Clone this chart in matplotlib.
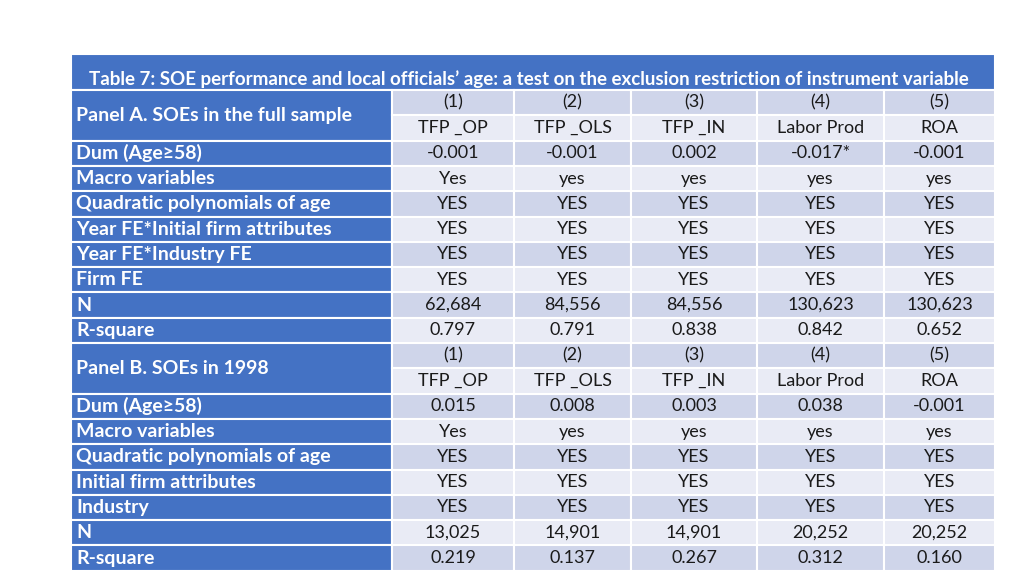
import matplotlib.pyplot as plt
from matplotlib.patches import Rectangle

plt.rcParams['font.family'] = ['Lato', 'DejaVu Sans']

title = "Table 7: SOE performance and local officials\u2019 age: a test on the exclusion restriction of instrument variable"

col_nums = ['(1)', '(2)', '(3)', '(4)', '(5)']
col_names = ['TFP _OP', 'TFP _OLS', 'TFP _IN', 'Labor Prod', 'ROA']

panel_a_title = 'Panel A. SOEs in the full sample'
panel_a_rows = ['Dum (Age\u226558)', 'Macro variables', 'Quadratic polynomials of age',
                'Year FE*Initial firm attributes', 'Year FE*Industry FE', 'Firm FE', 'N', 'R-square']
panel_a_vals = [
    ['-0.001', '-0.001', '0.002', '-0.017*', '-0.001'],
    ['Yes', 'yes', 'yes', 'yes', 'yes'],
    ['YES'] * 5,
    ['YES'] * 5,
    ['YES'] * 5,
    ['YES'] * 5,
    ['62,684', '84,556', '84,556', '130,623', '130,623'],
    ['0.797', '0.791', '0.838', '0.842', '0.652'],
]

panel_b_title = 'Panel B. SOEs in 1998'
panel_b_rows = ['Dum (Age\u226558)', 'Macro variables', 'Quadratic polynomials of age',
                'Initial firm attributes', 'Industry', 'N', 'R-square']
panel_b_vals = [
    ['0.015', '0.008', '0.003', '0.038', '-0.001'],
    ['Yes', 'yes', 'yes', 'yes', 'yes'],
    ['YES'] * 5,
    ['YES'] * 5,
    ['YES'] * 5,
    ['13,025', '14,901', '14,901', '20,252', '20,252'],
    ['0.219', '0.137', '0.267', '0.312', '0.160'],
]

# layout (pixels)
blue = '#4472C4'
dark = '#CFD5EA'
light = '#E9EBF5'
txt = '#1a1a1a'
x_edges = [71, 392, 514, 631, 757, 884, 995]
title_top, title_bot = 54, 90
row_h = 25.3
lab_fs = 14
val_fs = 13

fig = plt.figure(figsize=(10.24, 5.76), dpi=100)
ax = fig.add_axes([0, 0, 1, 1])
ax.set_xlim(0, 1024)
ax.set_ylim(576, 0)
ax.axis('off')

ax.add_patch(Rectangle((x_edges[0], title_top), x_edges[-1] - x_edges[0], title_bot - title_top,
                       facecolor=blue, edgecolor='white', lw=1.5))
ax.text(89, title_bot - 11, title, color='white', fontsize=13.5, fontweight='bold', va='center', ha='left')


def cell(x0, x1, y0, h, color):
    ax.add_patch(Rectangle((x0, y0), x1 - x0, h, facecolor=color, edgecolor='white', lw=1.5))


def draw_panel(y, ptitle, rows, vals):
    # header: two rows, label spans both
    cell(x_edges[0], x_edges[1], y, 2 * row_h, blue)
    ax.text(x_edges[0] + 5, y + row_h, ptitle, color='white', fontsize=lab_fs, fontweight='bold', va='center')
    for j in range(5):
        xa, xb = x_edges[j + 1], x_edges[j + 2]
        cell(xa, xb, y, row_h, dark)
        ax.text((xa + xb) / 2, y + row_h / 2, col_nums[j], fontsize=val_fs, ha='center', va='center', color=txt)
        cell(xa, xb, y + row_h, row_h, light)
        ax.text((xa + xb) / 2, y + 1.5 * row_h, col_names[j], fontsize=val_fs, ha='center', va='center', color=txt)
    y += 2 * row_h
    for i, (lab, vs) in enumerate(zip(rows, vals)):
        cell(x_edges[0], x_edges[1], y, row_h, blue)
        ax.text(x_edges[0] + 5, y + row_h / 2, lab, color='white', fontsize=lab_fs, fontweight='bold', va='center')
        col = dark if i % 2 == 0 else light
        for j in range(5):
            xa, xb = x_edges[j + 1], x_edges[j + 2]
            cell(xa, xb, y, row_h, col)
            ax.text((xa + xb) / 2, y + row_h / 2, vs[j], fontsize=val_fs, ha='center', va='center', color=txt)
        y += row_h
    return y


y = draw_panel(title_bot, panel_a_title, panel_a_rows, panel_a_vals)
y = draw_panel(y, panel_b_title, panel_b_rows, panel_b_vals)

fig.savefig('out.png', dpi=100)
